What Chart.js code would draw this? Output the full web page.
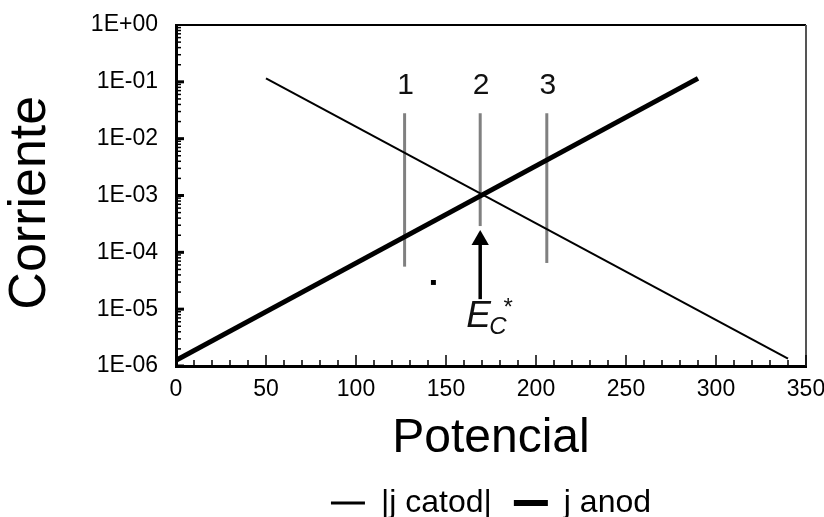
<!DOCTYPE html>
<html>
<head>
<meta charset="utf-8">
<script src="https://cdn.jsdelivr.net/npm/chart.js@4.4.1/dist/chart.umd.min.js"></script>
<style>
  body{margin:0;background:#fff;}
  #wrap{width:824px;height:517px;}
</style>
</head>
<body>
<div id="wrap"><canvas id="grafico" width="824" height="517"></canvas></div>
<script>
// datos
const potCatod = [50, 340];
const jCatod = [0.115, 1.35e-6];
const potAnod = [0, 290];
const jAnod = [1.26e-6, 0.115];

// lineas grises 1, 2, 3
const marcasPot = [127, 169, 206];
const marcasArriba = [0.028, 0.028, 0.028];
const marcasAbajo = [5.6e-5, 2.9e-4, 6.5e-5];
const marcasEtiq = ['1', '2', '3'];
const etiqY = 0.085;

// flecha E_C*
const flechaPot = [169, 169];
const flechaJ = [1.5e-5, 1.65e-4];

// punto suelto
const puntoPot = [143];
const puntoJ = [2.95e-5];

const xTicks = [0, 50, 100, 150, 200, 250, 300, 350];
const yTicks = [1e-6, 1e-5, 1e-4, 1e-3, 1e-2, 1e-1, 1];

const fuente = "'Liberation Sans', Arial, sans-serif";

const toXY = (xs, ys) => xs.map((x, i) => ({x: x, y: ys[i]}));

const datasets = [
  {label: '|j catod|', data: toXY(potCatod, jCatod), borderColor: '#000', backgroundColor: '#000', borderWidth: 2, pointRadius: 0, pointStyle: 'line'},
  {label: 'j anod', data: toXY(potAnod, jAnod), borderColor: '#000', backgroundColor: '#000', borderWidth: 5, pointRadius: 0, pointStyle: 'line'}
];
for (let i = 0; i < marcasPot.length; i++) {
  datasets.push({label: 'marca' + marcasEtiq[i], data: toXY([marcasPot[i], marcasPot[i]], [marcasAbajo[i], marcasArriba[i]]),
    borderColor: '#808080', borderWidth: 3, pointRadius: 0, borderCapStyle: 'butt'});
}
datasets.push({label: 'flecha', data: toXY(flechaPot, flechaJ), borderColor: '#000', backgroundColor: '#000',
  borderWidth: 3.5, pointRadius: [0, 10], pointStyle: 'triangle', pointBorderWidth: 0});
datasets.push({label: 'punto', data: toXY(puntoPot, puntoJ), borderColor: '#000', backgroundColor: '#000',
  showLine: false, pointRadius: 3.5, pointStyle: 'rect', pointBorderWidth: 0});

const fmtLog = (v) => {
  const e = Math.round(Math.log10(v));
  if (Math.abs(Math.log10(v) - e) > 1e-6) return '';
  return '1E' + (e < 0 ? '-' : '+') + String(Math.abs(e)).padStart(2, '0');
};

// marcas hacia adentro, borde del area y textos
const extras = {
  id: 'extras',
  afterDatasetsDraw(chart) {
    const ctx = chart.ctx, a = chart.chartArea;
    const xs = chart.scales.x, ys = chart.scales.y;
    ctx.save();
    // borde superior y derecho
    ctx.strokeStyle = '#000';
    ctx.lineWidth = 2;
    ctx.beginPath();
    ctx.moveTo(a.left, a.top);
    ctx.lineTo(a.right, a.top);
    ctx.stroke();
    ctx.strokeStyle = '#555';
    ctx.beginPath();
    ctx.moveTo(a.right, a.top);
    ctx.lineTo(a.right, a.bottom);
    ctx.stroke();
    // ticks x
    ctx.strokeStyle = '#000';
    ctx.lineWidth = 1.5;
    for (let v = 0; v <= 350; v += 10) {
      const px = xs.getPixelForValue(v);
      const len = v % 50 === 0 ? 11 : 6;
      ctx.beginPath();
      ctx.moveTo(px, a.bottom);
      ctx.lineTo(px, a.bottom - len);
      ctx.stroke();
    }
    // ticks y (log)
    for (let e = -6; e < 0; e++) {
      for (let m = 1; m <= 9; m++) {
        const py = ys.getPixelForValue(m * Math.pow(10, e));
        const len = m === 1 ? 8 : 5;
        ctx.lineWidth = m === 1 ? 3 : 1.5;
        ctx.beginPath();
        ctx.moveTo(a.left, py);
        ctx.lineTo(a.left + len, py);
        ctx.stroke();
      }
    }
    // etiquetas 1 2 3
    ctx.fillStyle = '#111';
    ctx.font = '30px ' + fuente;
    ctx.textAlign = 'center';
    ctx.textBaseline = 'middle';
    for (let i = 0; i < marcasPot.length; i++) {
      ctx.fillText(marcasEtiq[i], xs.getPixelForValue(marcasPot[i]) + 1, ys.getPixelForValue(etiqY));
    }
    // E_C*
    const ex = xs.getPixelForValue(flechaPot[0]);
    const ey = ys.getPixelForValue(flechaJ[0]);
    ctx.textAlign = 'left';
    ctx.textBaseline = 'alphabetic';
    ctx.font = 'italic 37px ' + fuente;
    ctx.fillText('E', ex - 14, ey + 28);
    ctx.font = 'italic 24px ' + fuente;
    ctx.fillText('C', ex + 9, ey + 35);
    ctx.textAlign = 'center';
    ctx.font = '24px ' + fuente;
    ctx.fillText('*', ex + 28, ey + 16);
    ctx.restore();
  }
};

new Chart(document.getElementById('grafico'), {
  type: 'scatter',
  data: {datasets: datasets},
  plugins: [extras],
  options: {
    responsive: false,
    animation: false,
    showLine: true,
    layout: {padding: {left: 0, right: 18, top: 25, bottom: -12}},
    plugins: {
      tooltip: {enabled: false},
      legend: {
        position: 'bottom',
        fullSize: false,
        labels: {
          filter: (it) => it.datasetIndex < 2,
          generateLabels: (chart) => Chart.defaults.plugins.legend.labels.generateLabels(chart).map((it) => {
            it.lineWidth = it.datasetIndex === 0 ? 3 : 6;
            return it;
          }),
          usePointStyle: true,
          pointStyleWidth: 34,
          boxHeight: 20,
          color: '#000',
          padding: 22,
          font: {family: fuente, size: 32, lineHeight: 1}
        }
      }
    },
    scales: {
      x: {
        type: 'linear',
        min: 0, max: 350,
        afterBuildTicks: (s) => { s.ticks = xTicks.map(v => ({value: v})); },
        afterFit: (s) => { s.height = 99; s.paddingRight = 0; },
        grid: {display: false},
        border: {display: true, color: '#000', width: 3},
        ticks: {color: '#000', padding: 2, font: {family: fuente, size: 23}},
        title: {display: true, text: 'Potencial', color: '#000', font: {family: fuente, size: 48, lineHeight: 1}, padding: {top: 0, bottom: 2}}
      },
      y: {
        type: 'logarithmic',
        min: 1e-6, max: 1,
        afterBuildTicks: (s) => { s.ticks = yTicks.map(v => ({value: v})); },
        afterFit: (s) => { s.width = 176; },
        grid: {display: false},
        border: {display: true, color: '#000', width: 3},
        ticks: {color: '#000', padding: 10, font: {family: fuente, size: 23}, callback: fmtLog, autoSkip: false},
        title: {display: true, text: 'Corriente ', color: '#000', font: {family: fuente, size: 52, lineHeight: 1}, padding: {top: 5, bottom: 0}}
      }
    }
  }
});
</script>
</body>
</html>
